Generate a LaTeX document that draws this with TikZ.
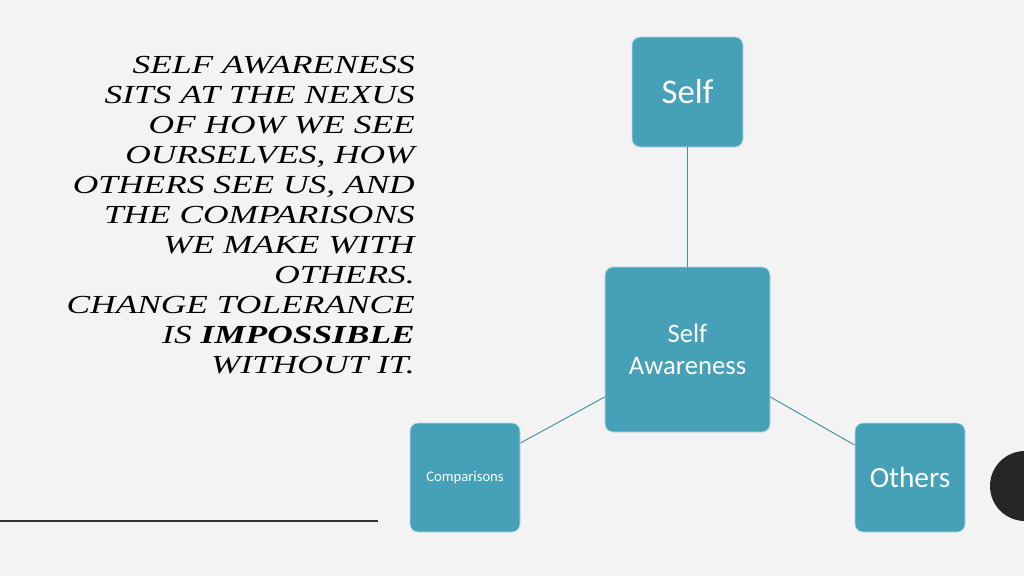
\documentclass[tikz,border=0pt]{standalone}
\usepackage{fontspec}
\setmainfont{Liberation Serif}
\newfontfamily\captionfont[FakeStretch=1.36]{Liberation Serif}
\newfontfamily\boxfont{Carlito}
\usetikzlibrary{positioning}
\definecolor{boxteal}{HTML}{45A0B8}
\definecolor{pagegray}{HTML}{F3F3F3}
\tikzset{
  tealbox/.style={fill=boxteal, draw=boxteal!40, line width=0.6pt, rounded corners=6pt,
    text=white, font=\boxfont, align=center, inner sep=0pt},
  tealline/.style={draw=boxteal!90!black, line width=0.7pt}
}
\begin{document}
\begin{tikzpicture}[x=0.75pt,y=-0.75pt]
	% page
	\fill[pagegray] (0,0) rectangle (1024,576);
	\useasboundingbox (0,0) rectangle (1024,576);

	% boxes
	\node[tealbox, minimum width=111*0.75pt, minimum height=110*0.75pt, font=\boxfont\fontsize{26}{30}\selectfont] (self) at (687.5,92) {Self};
	\node[tealbox, minimum width=165*0.75pt, minimum height=165*0.75pt, font=\boxfont\fontsize{20}{24}\selectfont] (aware) at (687.5,349.5) {Self\\Awareness};
	\node[tealbox, minimum width=110*0.75pt, minimum height=109*0.75pt, font=\boxfont\fontsize{11}{12}\selectfont] (comp) at (465,477.5) {Comparisons};
	\node[tealbox, minimum width=110*0.75pt, minimum height=109*0.75pt, font=\boxfont\fontsize{22}{26}\selectfont] (others) at (910,477.5) {Others};

	% connectors
	\draw[tealline] (self.south) -- (aware.north);
	\draw[tealline] (aware.west |- 0,397) -- (comp.east |- 0,443);
	\draw[tealline] (aware.east |- 0,397) -- (others.west |- 0,445);

	% text
	\node[anchor=north east, align=right, inner sep=0pt, font=\captionfont\itshape\fontsize{19.5}{22.5}\selectfont] (caption) at (415,56)
	{SELF AWARENESS\\SITS AT THE NEXUS\\OF HOW WE SEE\\OURSELVES, HOW\\OTHERS SEE US, AND\\THE COMPARISONS\\WE MAKE WITH\\OTHERS.\\CHANGE TOLERANCE\\IS \textbf{IMPOSSIBLE}\\WITHOUT IT.};

	% decorations
	\draw[line width=1.5pt, black!80] (0,521) -- (378,521);
	\fill[black!85] (1025,486) circle (35);
\end{tikzpicture}
\end{document}
